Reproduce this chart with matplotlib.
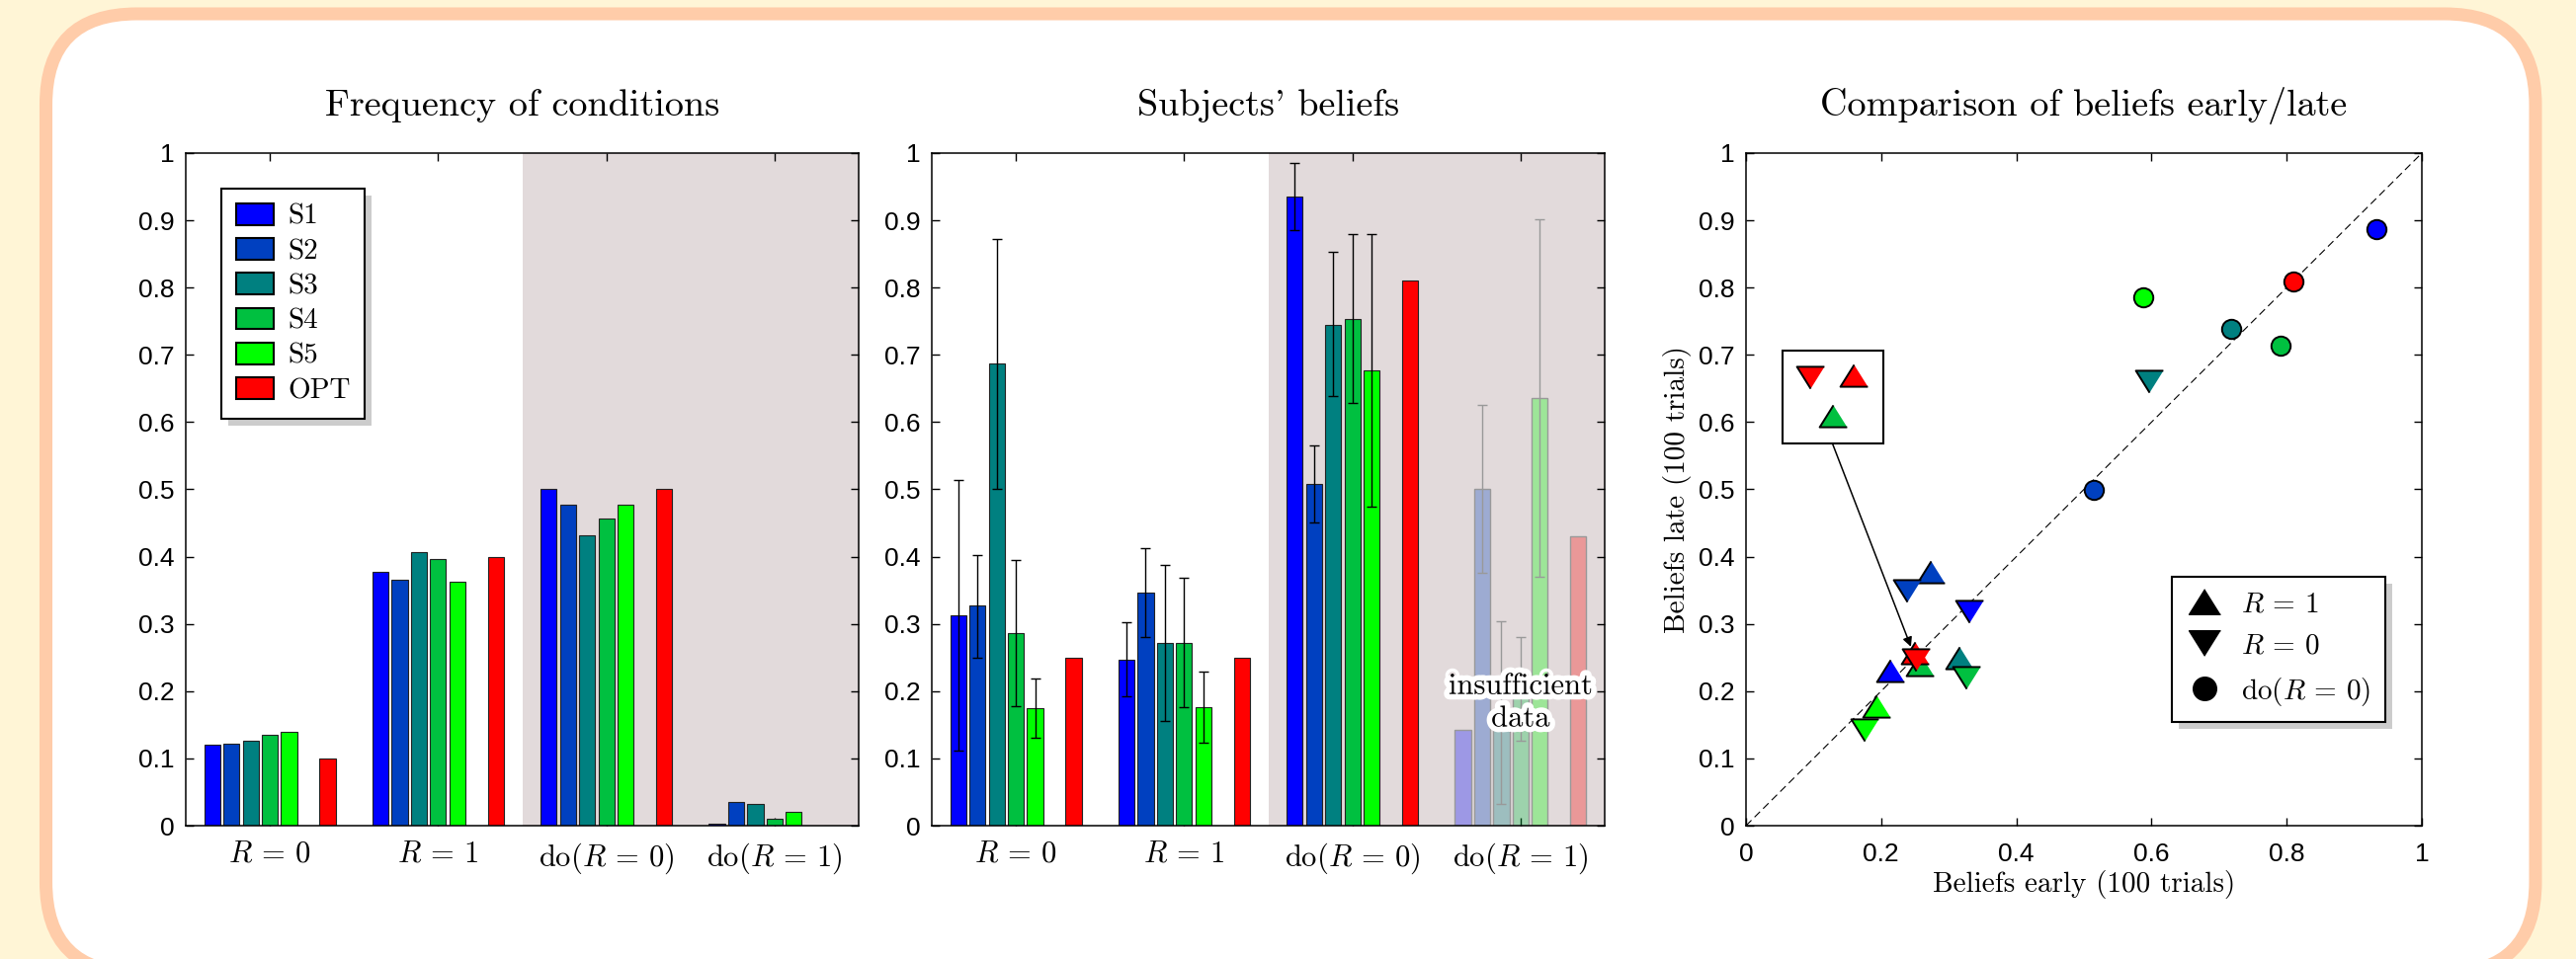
import matplotlib
matplotlib.use('Agg')
import matplotlib.pyplot as plt
import matplotlib.patheffects as pe
import numpy as np
from matplotlib.patches import FancyBboxPatch, Rectangle, Patch
from matplotlib.lines import Line2D
from matplotlib.transforms import IdentityTransform

plt.rcParams['font.family'] = ['cmr10', 'DejaVu Serif']
plt.rcParams['mathtext.fontset'] = 'cm'
plt.rcParams['axes.formatter.use_mathtext'] = True
plt.rcParams['axes.unicode_minus'] = False

subjects = ['S1', 'S2', 'S3', 'S4', 'S5', 'OPT']
colors = ['#0000FF', '#0040C0', '#008080', '#00C040', '#00FF00', '#FF0000']
conditions = ['$R$ = 0', '$R$ = 1', 'do($R$ = 0)', 'do($R$ = 1)']
yticklabels = ['0', '0.1', '0.2', '0.3', '0.4', '0.5', '0.6', '0.7', '0.8', '0.9', '1']

# frequency of conditions (R=0, R=1, do(R=0), do(R=1))
freq_S1 = [0.120, 0.377, 0.500, 0.003]
freq_S2 = [0.122, 0.365, 0.477, 0.035]
freq_S3 = [0.127, 0.407, 0.432, 0.032]
freq_S4 = [0.135, 0.397, 0.457, 0.010]
freq_S5 = [0.140, 0.363, 0.477, 0.020]
freq_OPT = [0.100, 0.400, 0.500, 0.000]

# subjects' beliefs with error bar bounds
bel_S1 = [0.313, 0.247, 0.935, 0.142]
bel_S1_lo = [0.111, 0.192, 0.886, np.nan]
bel_S1_hi = [0.514, 0.302, 0.985, np.nan]
bel_S2 = [0.327, 0.347, 0.508, 0.500]
bel_S2_lo = [0.250, 0.280, 0.451, 0.376]
bel_S2_hi = [0.403, 0.412, 0.565, 0.626]
bel_S3 = [0.687, 0.271, 0.745, 0.168]
bel_S3_lo = [0.500, 0.155, 0.639, 0.032]
bel_S3_hi = [0.872, 0.388, 0.853, 0.304]
bel_S4 = [0.287, 0.272, 0.754, 0.204]
bel_S4_lo = [0.178, 0.176, 0.628, 0.127]
bel_S4_hi = [0.395, 0.368, 0.879, 0.281]
bel_S5 = [0.175, 0.176, 0.677, 0.636]
bel_S5_lo = [0.131, 0.123, 0.475, 0.370]
bel_S5_hi = [0.219, 0.229, 0.880, 0.902]
bel_OPT = [0.250, 0.250, 0.810, 0.430]

# beliefs early / late (S1..S5, OPT)
early_r1 = [0.214, 0.273, 0.316, 0.257, 0.193, 0.250]
late_r1 = [0.230, 0.377, 0.250, 0.240, 0.177, 0.257]
early_r0 = [0.330, 0.238, 0.596, 0.326, 0.176, 0.251]
late_r0 = [0.319, 0.349, 0.661, 0.220, 0.143, 0.247]
early_do = [0.933, 0.515, 0.718, 0.791, 0.587, 0.810]
late_do = [0.887, 0.499, 0.739, 0.714, 0.785, 0.809]

freqs = [freq_S1, freq_S2, freq_S3, freq_S4, freq_S5, freq_OPT]
beliefs = [bel_S1, bel_S2, bel_S3, bel_S4, bel_S5, bel_OPT]
bel_lo = [bel_S1_lo, bel_S2_lo, bel_S3_lo, bel_S4_lo, bel_S5_lo, None]
bel_hi = [bel_S1_hi, bel_S2_hi, bel_S3_hi, bel_S4_hi, bel_S5_hi, None]

W, H = 2607, 971
fig = plt.figure(figsize=(W / 100, H / 100), dpi=100, facecolor='#FFF5D6')

# rounded frame
bg = fig.add_axes([0, 0, 1, 1], zorder=-10)
bg.set_xlim(0, W)
bg.set_ylim(H, 0)
bg.axis('off')
bg.add_patch(FancyBboxPatch((46.5, 14), 2566 - 46.5, 985 - 14,
                            boxstyle='round,pad=0,rounding_size=92',
                            fc='white', ec='#FFCCA9', lw=9.4, clip_on=False))

def px_axes(x0, y0, w, h):
    return fig.add_axes([x0 / W, (H - y0 - h) / H, w / W, h / H])

ax1 = px_axes(188, 155, 681, 681)
ax2 = px_axes(943, 155, 681, 681)
ax3 = px_axes(1767, 155, 684, 681)

tick_font = 'Liberation Sans'
shade = '#E2DADB'
slot = 0.8 / 7
bw = 0.095
xs = np.arange(1, 5)
offsets = [-3, -2, -1, 0, 1, 3]


def style_bar_axes(ax, title):
    ax.axvspan(2.5, 4.5, color=shade, zorder=0, lw=0)
    ax.set_xlim(0.5, 4.5)
    ax.set_ylim(0, 1)
    ax.set_xticks(xs)
    ax.set_xticklabels(conditions, fontsize=22)
    ax.set_yticks(np.linspace(0, 1, 11))
    ax.set_yticklabels(yticklabels, fontsize=19, family=tick_font)
    ax.tick_params(direction='in', top=True, right=True, length=6, width=1)
    ax.tick_params(axis='x', pad=11)
    ax.tick_params(axis='y', pad=8)
    for s in ax.spines.values():
        s.set_linewidth(1.1)
    ax.set_title(title, fontsize=27.5, pad=27)


# panel 1
for i in range(6):
    ax1.bar(xs + offsets[i] * slot, freqs[i], width=bw, color=colors[i],
            edgecolor='#222222', lw=0.8, zorder=2)
style_bar_axes(ax1, 'Frequency of conditions')
handles = [Patch(facecolor=c, edgecolor='k', lw=1.5) for c in colors]
leg1 = ax1.legend(handles, subjects, loc='upper left', bbox_to_anchor=(0.053, 0.947),
                  borderaxespad=0, fontsize=21, fancybox=False, framealpha=1,
                  edgecolor='k', handlelength=1.3, handleheight=0.78,
                  handletextpad=0.5, labelspacing=0.28, borderpad=0.5)
leg1.get_frame().set_linewidth(1.5)

# panel 2
for i in range(6):
    x = xs + offsets[i] * slot
    ax2.bar(x[:3], beliefs[i][:3], width=bw, color=colors[i],
            edgecolor='#222222', lw=0.8, zorder=2)
    ax2.bar(x[3], beliefs[i][3], width=bw, color=colors[i], alpha=0.3,
            edgecolor='none', zorder=2)
    ax2.bar(x[3], beliefs[i][3], width=bw, fill=False,
            edgecolor='#999999', lw=1.0, zorder=2)
    if bel_lo[i] is not None:
        m = np.array(beliefs[i])
        lo = m - np.array(bel_lo[i])
        hi = np.array(bel_hi[i]) - m
        ax2.errorbar(x[:3], m[:3], yerr=[lo[:3], hi[:3]], fmt='none', ecolor='k',
                     elinewidth=1, capsize=3.6, capthick=1, zorder=3)
        ax2.errorbar(x[3:], m[3:], yerr=[lo[3:], hi[3:]], fmt='none', ecolor='#999999',
                     elinewidth=1, capsize=3.6, capthick=1, zorder=3)
style_bar_axes(ax2, "Subjects' beliefs")
ax2.text(4.0, 0.183, 'insufficient\ndata', ha='center', va='center', fontsize=22,
         linespacing=1.25, zorder=5,
         path_effects=[pe.withStroke(linewidth=8, foreground='white')])

# panel 3
tri_up = [(0, 0.8), (-1, -0.8), (1, -0.8)]
tri_dn = [(0, -0.8), (-1, 0.8), (1, 0.8)]
ax3.plot([0, 1], [0, 1], color='k', lw=0.8, dashes=(7, 4), zorder=1)
for i in range(6):
    ax3.plot(early_do[i], late_do[i], marker='o', ms=14, mfc=colors[i], mec='k',
             mew=1.4, ls='none', zorder=3)
for i in range(6):
    ax3.plot(early_r1[i], late_r1[i], marker=tri_up, ms=20, mfc=colors[i], mec='k',
             mew=1.4, ls='none', zorder=3)
for i in range(6):
    ax3.plot(early_r0[i], late_r0[i], marker=tri_dn, ms=20, mfc=colors[i], mec='k',
             mew=1.4, ls='none', zorder=3)

# zoomed inset of the crowded point
ax3.add_patch(Rectangle((0.054, 0.568), 0.149, 0.138, fc='white', ec='k', lw=1.5, zorder=4))
ax3.plot(0.095, 0.667, marker=tri_dn, ms=20, mfc=colors[5], mec='k', mew=1.4, zorder=5)
ax3.plot(0.160, 0.669, marker=tri_up, ms=20, mfc=colors[5], mec='k', mew=1.4, zorder=5)
ax3.plot(0.128, 0.610, marker=tri_up, ms=20, mfc=colors[3], mec='k', mew=1.4, zorder=5)
ax3.annotate('', xy=(0.244, 0.266), xytext=(0.128, 0.568),
             arrowprops=dict(arrowstyle='-|>', color='k', lw=1.1, mutation_scale=14,
                             shrinkA=0, shrinkB=0), zorder=6)

ax3.set_xlim(0, 1)
ax3.set_ylim(0, 1)
ax3.set_xticks(np.linspace(0, 1, 6))
ax3.set_xticklabels(['0', '0.2', '0.4', '0.6', '0.8', '1'], fontsize=19, family=tick_font)
ax3.set_yticks(np.linspace(0, 1, 11))
ax3.set_yticklabels(yticklabels, fontsize=19, family=tick_font)
ax3.tick_params(direction='in', top=True, right=True, length=6, width=1)
ax3.tick_params(axis='x', pad=12)
ax3.tick_params(axis='y', pad=8)
for s in ax3.spines.values():
    s.set_linewidth(1.1)
ax3.set_title('Comparison of beliefs early/late', fontsize=27.5, pad=27)
ax3.set_xlabel('Beliefs early (100 trials)', fontsize=21, labelpad=3)
ax3.set_ylabel('Beliefs late (100 trials)', fontsize=21, labelpad=5)

mk = dict(color='k', ls='none', mec='k')
leg_handles = [Line2D([], [], marker=tri_up, ms=23, **mk),
               Line2D([], [], marker=tri_dn, ms=23, **mk),
               Line2D([], [], marker='o', ms=17, **mk)]
leg3 = ax3.legend(leg_handles, ['$R$ = 1', '$R$ = 0', 'do($R$ = 0)'], loc='upper left',
                  bbox_to_anchor=(0.630, 0.370), borderaxespad=0, fontsize=21,
                  fancybox=False, framealpha=1, edgecolor='k', handlelength=1.3,
                  handletextpad=0.6, labelspacing=0.55, borderpad=0.5)
leg3.get_frame().set_linewidth(1.5)

# legend shadows
fig.canvas.draw()
for ax, leg in [(ax1, leg1), (ax3, leg3)]:
    bb = leg.get_window_extent()
    ax.add_patch(Rectangle((bb.x0 + 7, bb.y0 - 7), bb.width, bb.height,
                           transform=IdentityTransform(), fc='#CCCCCC', ec='none',
                           zorder=4.9, clip_on=False))

fig.savefig('out.png', dpi=100, facecolor=fig.get_facecolor())
